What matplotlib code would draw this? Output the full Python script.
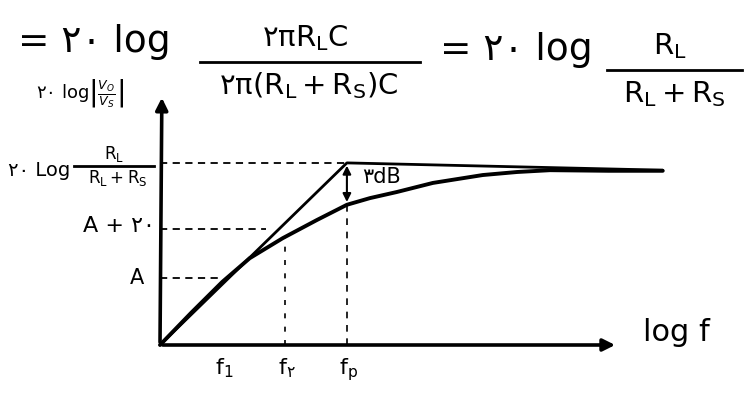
import matplotlib.pyplot as plt

# Magnitude response on log-frequency axes (units: one step per marked frequency)
asym_x = [0.0, 3.0, 8.07]
asym_y = [0.0, 3.0, 2.88]

curve_x = [0.0, 0.5, 1.0, 1.44, 1.97, 2.52, 3.0, 3.37, 3.80, 4.38, 5.18, 5.73, 6.26, 7.2, 8.07]
curve_y = [0.0, 0.53, 1.04, 1.43, 1.76, 2.06, 2.31, 2.42, 2.52, 2.67, 2.80, 2.85, 2.88, 2.87, 2.87]

f1, f2, fp = 1.0, 2.0, 3.0
level_top = 3.0      # 20 log RL/(RL+RS)
level_a20 = 1.91     # A + 20
level_a = 1.10       # A
curve_at_f2 = 1.76
curve_at_fp = 2.31

W, H = 755, 393
fig = plt.figure(figsize=(W / 100, H / 100), dpi=100)
fig.patch.set_facecolor("white")

# axes placed so that one x unit ~ 62 px, one y unit ~ 61 px
ax = fig.add_axes([160 / W, 48 / H, 9 * 62.3 / W, 4.5 * 60.7 / H])
ax.set_xlim(0, 9)
ax.set_ylim(0, 4.5)
ax.axis("off")

# coordinate axes with arrow heads
ax.annotate("", xy=(7.35, 0), xytext=(0, 0),
            arrowprops=dict(arrowstyle="-|>", lw=2.6, color="black", mutation_scale=18),
            annotation_clip=False)
ax.annotate("", xy=(0.03, 4.12), xytext=(0, 0),
            arrowprops=dict(arrowstyle="-|>", lw=2.6, color="black", mutation_scale=18),
            annotation_clip=False)

# asymptotes and actual curve
ax.plot(asym_x, asym_y, color="black", lw=2.0, solid_capstyle="round", clip_on=False)
ax.plot(curve_x, curve_y, color="black", lw=2.8, solid_capstyle="round",
        solid_joinstyle="round", clip_on=False)

# guide lines
ax.plot([0, fp], [level_top, level_top], ls=(0, (4, 3)), color="black", lw=1.3)
ax.plot([0, 1.7], [level_a20, level_a20], ls=(0, (4, 3)), color="black", lw=1.3)
ax.plot([0, f1], [level_a, level_a], ls=(0, (4, 3)), color="black", lw=1.3)
ax.plot([f2, f2], [0, curve_at_f2], ls=(0, (3, 5)), color="black", lw=1.2)
ax.plot([fp, fp], [0, curve_at_fp], ls=(0, (4, 4)), color="black", lw=1.2)

# 3 dB gap at the corner frequency
ax.annotate("", xy=(fp, curve_at_fp), xytext=(fp, level_top),
            arrowprops=dict(arrowstyle="<|-|>", lw=1.5, color="black", mutation_scale=12))
ax.text(3.25, 2.76, "۳dB", fontsize=15, ha="left", va="center")

# frequency labels
for x, lab in zip([f1, f2, fp], [r"f$_\mathrm{1}$", "f$_۲$", r"f$_\mathrm{p}$"]):
    ax.text(x + 0.03, -0.18, lab, fontsize=16, ha="center", va="top", clip_on=False)
ax.text(7.75, 0.2, "log f", fontsize=22, ha="left", va="center", clip_on=False)

# level labels on the y axis
ax.text(-0.25, level_a, "A", fontsize=15, ha="right", va="center", clip_on=False)
ax.text(-0.08, level_a20 + 0.05, "A + ۲۰", fontsize=16, ha="right", va="center", clip_on=False)


def px(x, y):
    return x / W, 1 - y / H


def fraction(xc, y_bar, x0, x1, num, den, size, gap=22):
    fig.text(*px(xc, y_bar - gap), num, fontsize=size, ha="center", va="center")
    fig.add_artist(plt.Line2D([x0 / W, x1 / W], [1 - y_bar / H] * 2, color="black", lw=2.0))
    fig.text(*px(xc + 4, y_bar + gap), den, fontsize=size, ha="center", va="center")


fig.text(*px(8, 170), "۲۰ Log", fontsize=14, ha="left", va="center")
fraction(114, 166, 74, 154, r"$\mathrm{R_L}$", r"$\mathrm{R_L+R_S}$", 12, gap=12)
fig.text(*px(36, 94), r"۲۰ log$\left|\frac{V_O}{V_S}\right|$", fontsize=13,
         ha="left", va="center")

# equation at the top
fig.text(*px(18, 42), "= ۲۰ log", fontsize=27, ha="left", va="center")
fraction(305, 62, 200, 420, r"۲π$\mathrm{R_LC}$", r"۲π($\mathrm{R_L+R_S}$)C", 21, gap=24)
fig.text(*px(440, 50), "= ۲۰ log", fontsize=27, ha="left", va="center")
fraction(670, 70, 607, 742, r"$\mathrm{R_L}$", r"$\mathrm{R_L+R_S}$", 21, gap=24)

fig.savefig("out.png", dpi=100, facecolor="white")
